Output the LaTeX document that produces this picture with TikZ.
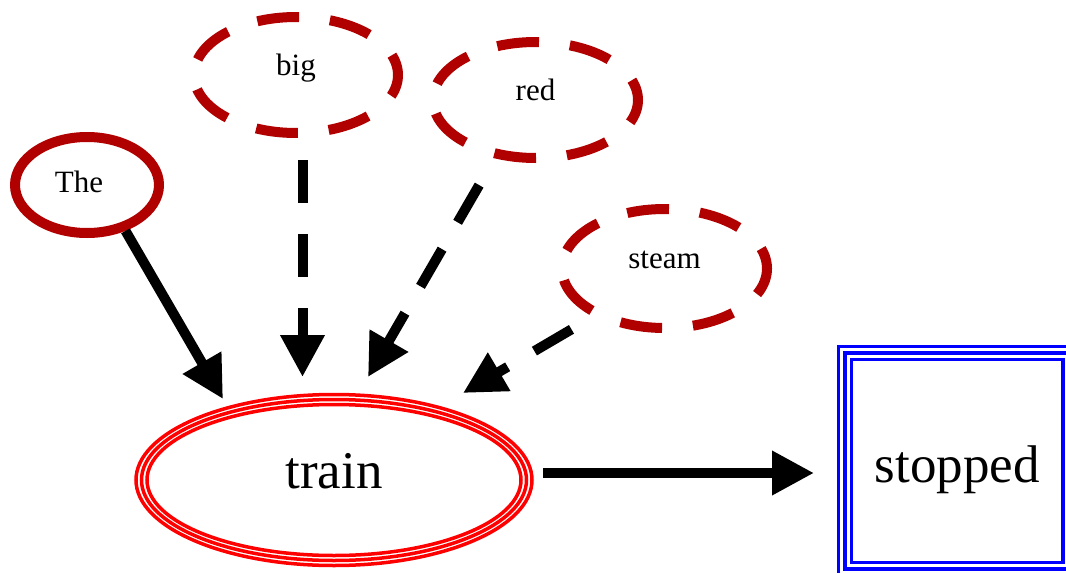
\documentclass[tikz,border=0pt]{standalone}
\usepackage{fontspec}
\setmainfont{Liberation Serif}
\usetikzlibrary{arrows.meta,shapes.geometric}
\definecolor{dred}{HTML}{B00000}
\definecolor{tred}{HTML}{FF0000}
\definecolor{sblue}{HTML}{0000FF}
\begin{document}
\begin{tikzpicture}[x=1pt,y=-1pt,
  word/.style={ellipse, draw=dred, line width=10pt, inner sep=0pt,
    font=\fontsize{31}{31}\selectfont, text height=10pt, text depth=10pt},
  dashedword/.style={word, dash pattern=on 42pt off 31pt, dash phase=21pt},
  edge/.style={draw=black, line width=10pt, -{Triangle[length=42pt,width=42pt]}},
  dashededge/.style={edge, dash pattern=on 43pt off 31pt},
  ring/.style={draw=tred, line width=3.5pt},
  frame/.style={draw=sblue, line width=3.5pt},
  bigtext/.style={font=\fontsize{53}{53}\selectfont}]
\useasboundingbox (0,0) rectangle (1066,573);
\clip (0,0) rectangle (1066,573);

% word nodes
\node[word, minimum width=144pt, minimum height=96pt, text height=20pt, text depth=6pt]
  (The) at (87,185) {\hspace*{-16pt}The};
\node[dashedword, minimum width=204pt, minimum height=116pt] (big) at (296,75) {big};
\node[dashedword, minimum width=205pt, minimum height=116pt] (red) at (535.5,100) {red};
\node[dashedword, minimum width=205pt, minimum height=119pt] (steam) at (664.5,268.5) {steam};

% train (three peripheries)
\node[ellipse, ring, bigtext, inner sep=0pt, minimum width=396pt, minimum height=171pt,
  text height=28pt, text depth=12pt] (train) at (334,480) {train};
\draw[ring] (train.center) ellipse [x radius=192.5, y radius=80.5];
\draw[ring] (train.center) ellipse [x radius=187, y radius=75.5];

% stopped (three peripheries)
\node[rectangle, frame, bigtext, outer sep=0pt, inner sep=0pt,
  minimum width=211.5pt, minimum height=203pt, text height=42pt, text depth=0pt]
  (stopped) at (957.25,461) {stopped};
\draw[frame] ([shift={(-6.5,-6.5)}]stopped.north west) rectangle ([shift={(6.5,6.5)}]stopped.south east);
\draw[frame] ([shift={(-13,-13)}]stopped.north west) rectangle ([shift={(13,13)}]stopped.south east);

% arrow tips
\coordinate (tipThe) at (223,399);
\coordinate (tipBig) at (302.5,377);
\coordinate (tipRed) at (368,377);
\coordinate (tipSteam) at (463,393);
\coordinate (tipStop) at (814,473);

% edges
\draw[edge] (The.-50) -- (tipThe);
\draw[dashededge, shorten <=22pt] (big.south -| tipBig) -- (tipBig);
\draw[dashededge, shorten <=31pt] (red.235) -- (tipRed);
\draw[dashededge, shorten <=25pt] (steam.214) -- (tipSteam);
\draw[edge, shorten <=9.5pt] (train.east |- tipStop) -- (tipStop);
\end{tikzpicture}
\end{document}
